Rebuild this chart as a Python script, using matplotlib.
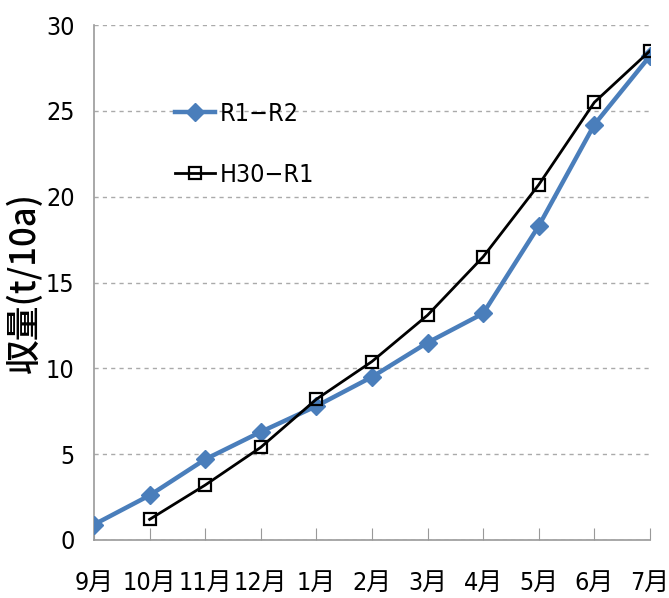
import matplotlib
matplotlib.use("Agg")
import matplotlib.pyplot as plt

plt.rcParams['font.family'] = ['DejaVu Sans', 'Noto Sans CJK JP']
plt.rcParams['font.stretch'] = 'condensed'

months = ["9月", "10月", "11月", "12月", "1月", "2月", "3月", "4月", "5月", "6月", "7月"]
r1_r2 = [0.9, 2.6, 4.7, 6.3, 7.8, 9.5, 11.5, 13.2, 18.3, 24.2, 28.2]
h30_months = ["10月", "11月", "12月", "1月", "2月", "3月", "4月", "5月", "6月", "7月"]
h30_r1 = [1.2, 3.2, 5.4, 8.2, 10.4, 13.1, 16.5, 20.7, 25.5, 28.5]

x_all = list(range(len(months)))
x_h30 = [months.index(m) for m in h30_months]

fig = plt.figure(figsize=(6.69, 5.98), dpi=100)
ax = fig.add_axes([0.1405, 0.097, 0.831, 0.861])

ax.plot(x_all, r1_r2, color="#4a7ebb", lw=3.2, marker="D", ms=9,
        markerfacecolor="#4a7ebb", markeredgecolor="#4a7ebb", label="R1−R2", zorder=3)
ax.plot(x_h30, h30_r1, color="black", lw=2, marker="s", ms=9,
        markerfacecolor="none", markeredgecolor="black", markeredgewidth=1.6,
        label="H30−R1", zorder=4)

ax.set_xlim(0, 10)
ax.set_ylim(0, 30)
ax.set_yticks(range(0, 31, 5))
ax.set_xticks(x_all)
ax.set_xticklabels(months)

for s in ["top", "right"]:
    ax.spines[s].set_visible(False)
for s in ["left", "bottom"]:
    ax.spines[s].set_color("#999999")
    ax.spines[s].set_linewidth(1.2)

ax.tick_params(axis="y", length=0, labelsize=18, pad=14)
ax.tick_params(axis="x", direction="in", length=9, color="#999999", labelsize=18, pad=22)
ax.yaxis.grid(True, linestyle=(0, (3, 3)), color="#aaaaaa", lw=1)
ax.set_axisbelow(True)

ax.set_ylabel("収量(t/10a)", fontsize=25, fontweight="medium",
              family=["Noto Sans CJK JP", "DejaVu Sans"], labelpad=2)

ax.legend(loc="upper left", bbox_to_anchor=(0.105, 0.895), frameon=False,
          fontsize=18, handlelength=1.6, handletextpad=0.2, labelspacing=1.5)

fig.savefig("out.png", dpi=100)
